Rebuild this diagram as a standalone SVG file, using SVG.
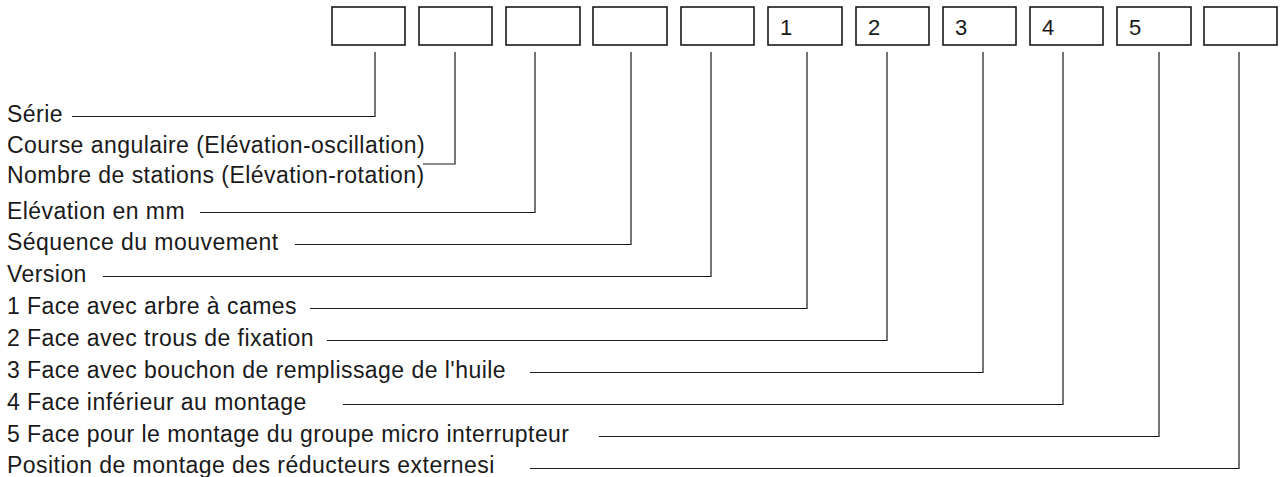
<svg xmlns="http://www.w3.org/2000/svg" width="1281" height="477" viewBox="0 0 1281 477">
<style>
.box{fill:#fff;stroke:#1a1a1a;stroke-width:1.6}
.num{font-family:"Liberation Sans",Arial,sans-serif;font-size:22px;fill:#1a1a1a}
.lbl{font-family:"Liberation Sans",Arial,sans-serif;font-size:23px;fill:#1a1a1a;letter-spacing:0.45px}
.con{fill:none;stroke:#1a1a1a;stroke-width:1.2}
</style>
<rect width="1281" height="477" fill="#fff"/>
<g id="boxes">
<g id="box1"><rect class="box" x="332" y="7" width="73" height="38"/></g>
<g id="box2"><rect class="box" x="419" y="7" width="73" height="38"/></g>
<g id="box3"><rect class="box" x="506" y="7" width="74" height="38"/></g>
<g id="box4"><rect class="box" x="593" y="7" width="74" height="38"/></g>
<g id="box5"><rect class="box" x="681" y="7" width="73" height="38"/></g>
<g id="box6"><rect class="box" x="768" y="7" width="74" height="38"/><text class="num" x="780" y="34.5">1</text></g>
<g id="box7"><rect class="box" x="856" y="7" width="73" height="38"/><text class="num" x="868" y="34.5">2</text></g>
<g id="box8"><rect class="box" x="943" y="7" width="73" height="38"/><text class="num" x="955" y="34.5">3</text></g>
<g id="box9"><rect class="box" x="1030" y="7" width="73" height="38"/><text class="num" x="1042" y="34.5">4</text></g>
<g id="box10"><rect class="box" x="1117" y="7" width="74" height="38"/><text class="num" x="1129" y="34.5">5</text></g>
<g id="box11"><rect class="box" x="1204" y="7" width="73" height="38"/></g>
</g>
<g id="labels">
<g id="lbl-serie"><text class="lbl" x="7" y="122">Série</text></g>
<g id="lbl-course"><text class="lbl" x="7" y="153">Course angulaire (Elévation-oscillation)</text></g>
<g id="lbl-nombre"><text class="lbl" x="7" y="183">Nombre de stations (Elévation-rotation)</text></g>
<g id="lbl-elevation"><text class="lbl" x="7" y="218.5">Elévation en mm</text></g>
<g id="lbl-sequence"><text class="lbl" x="7" y="250">Séquence du mouvement</text></g>
<g id="lbl-version"><text class="lbl" x="7" y="282">Version</text></g>
<g id="lbl-face1"><text class="lbl" x="7" y="314">1 Face avec arbre à cames</text></g>
<g id="lbl-face2"><text class="lbl" x="7" y="346">2 Face avec trous de fixation</text></g>
<g id="lbl-face3"><text class="lbl" x="7" y="378">3 Face avec bouchon de remplissage de l'huile</text></g>
<g id="lbl-face4"><text class="lbl" x="7" y="410">4 Face inférieur au montage</text></g>
<g id="lbl-face5"><text class="lbl" x="7" y="441.5">5 Face pour le montage du groupe micro interrupteur</text></g>
<g id="lbl-position"><text class="lbl" x="7" y="473">Position de montage des réducteurs externesi</text></g>
</g>
<g id="connectors">
<path class="con" d="M375 52 V116.5 H72"/>
<path class="con" d="M455 52 V164 H423"/>
<path class="con" d="M535 52 V212.5 H200"/>
<path class="con" d="M631 52 V244.5 H295"/>
<path class="con" d="M711 52 V276.5 H103"/>
<path class="con" d="M807 52 V308.5 H310"/>
<path class="con" d="M887 52 V340.5 H327"/>
<path class="con" d="M983 52 V372.5 H530"/>
<path class="con" d="M1063 52 V404.5 H343"/>
<path class="con" d="M1159 52 V436.5 H599"/>
<path class="con" d="M1239 52 V468.5 H530"/>
</g>
</svg>
